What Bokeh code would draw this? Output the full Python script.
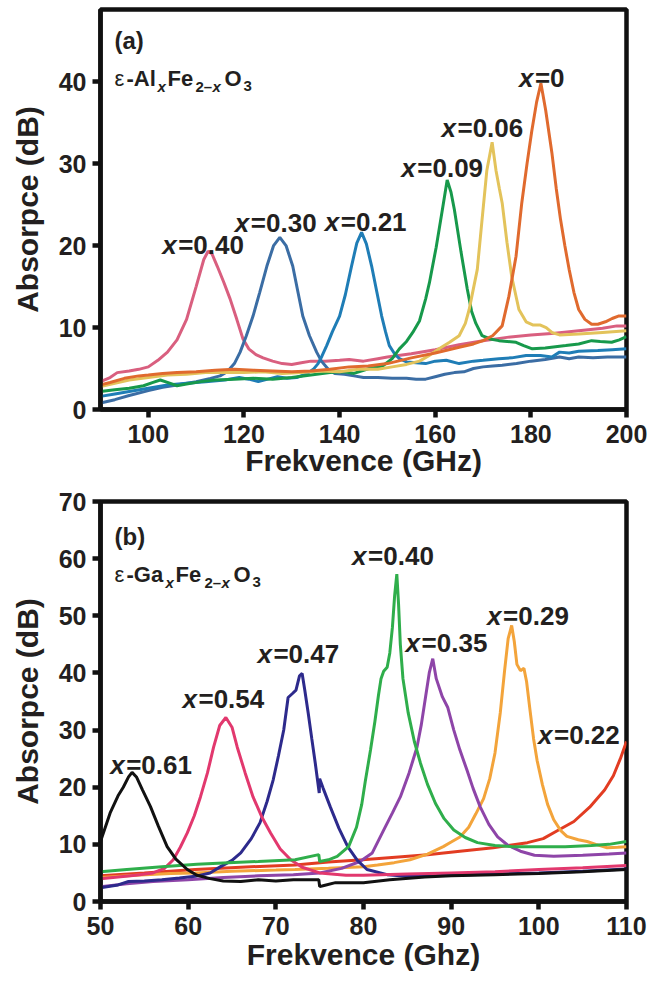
from bokeh.plotting import figure
from bokeh.layouts import column
from bokeh.models import FixedTicker, Range1d
from bokeh.core.properties import value
from bokeh.embed import file_html
from bokeh.resources import INLINE

FONT = "Liberation Sans"
TXT = "#231f20"

# ---------------- data: panel (a)  eps-AlxFe2-xO3, frequency (GHz) vs absorption (dB)
AL_X0 = [(90,3.0),(92,3.3),(95,3.8),(98,4.1),(100,4.2),(103,4.4),(106,4.5),(110,4.6),(114,4.8),(118,4.9),(122,4.8),(126,4.7),(130,4.6),(134,4.7),(138,4.9),(142,5.2),(146,5.3),(150,5.6),(155,6.3),(160,6.9),(165,7.6),(168,8.0),(170,8.4),(172,9.0),(174,10.2),(175.4,13.8),(176.9,18.7),(178.1,25.2),(179.2,30.0),(180.2,34.0),(181.2,37.5),(182.1,39.8),(183.1,36.5),(184.4,31.3),(185.3,27.0),(186.2,23.2),(187.1,20.0),(188,17.1),(189,14.3),(190,12.2),(191.3,11.0),(192.7,10.4),(194,10.4),(195.6,10.7),(197,11.1),(198.3,11.4),(200,11.4)]
AL_X006 = [(90,2.8),(93,3.2),(96,3.6),(100,3.9),(104,4.2),(108,4.3),(112,4.5),(116,4.5),(120,4.5),(124,4.6),(128,4.4),(132,4.5),(136,4.7),(140,4.6),(144,4.9),(148,4.9),(151,5.2),(154,5.5),(156.7,5.9),(158.5,6.5),(160.8,7.4),(163,8.2),(165,9.0),(166.3,10.5),(167.1,12.2),(167.9,14.5),(168.8,17.1),(169.8,23.2),(170.8,29.2),(171.9,32.6),(172.7,29.2),(173.4,27.0),(174,25.2),(175,20.4),(176,16.2),(177.5,12.2),(179,10.7),(180.5,10.3),(182,10.3),(183.2,10.0),(184.4,9.4),(186,9.1),(190,9.2),(195,9.4),(200,9.6)]
AL_X009 = [(90,2.2),(93,2.4),(96,2.6),(99,2.9),(101,3.3),(102.5,3.6),(104,3.3),(106,2.9),(108,3.1),(111,3.4),(114,3.6),(118,3.7),(122,3.8),(126,3.7),(130,3.9),(134,4.2),(138,4.5),(141,4.6),(143,4.4),(146.2,5.0),(149,5.3),(151,6.2),(152.5,7.4),(154,8.3),(155.3,9.4),(156.7,10.8),(158,13.5),(158.8,15.5),(160.2,19.8),(161.5,24.4),(162.5,28.0),(163.3,26.5),(164,24.4),(165.4,19.2),(166.7,14.7),(167.6,12.0),(168.5,10.5),(169.8,9.0),(171.5,8.6),(173.3,8.4),(176.9,8.2),(178.5,7.8),(180.3,7.4),(183,7.5),(187.3,7.8),(190,8.0),(192.7,8.4),(194.5,8.3),(196.9,8.2),(198.5,8.5),(200,8.9)]
AL_X021 = [(90,1.6),(93,1.9),(96,2.2),(100,2.6),(104,3.0),(108,3.2),(112,3.4),(116,3.6),(119,3.9),(121,3.7),(123,3.4),(125,3.7),(127,4.0),(129,3.8),(131,3.9),(133,4.3),(134.5,4.9),(135.5,5.6),(136.3,6.5),(137.3,7.8),(138.5,9.5),(140,11.4),(141.2,14.0),(142.5,17.5),(143.6,20.3),(144.6,21.6),(145.6,20.2),(146.7,17.5),(147.8,14.3),(148.8,11.4),(149.6,9.5),(150.4,7.8),(151.5,6.8),(152.5,6.2),(154,5.8),(156,5.7),(158,5.6),(160,5.9),(162.3,6.0),(165,5.6),(168,5.9),(170,6.0),(173.3,6.2),(176,6.3),(179,6.6),(182,6.6),(184.4,6.4),(186,7.0),(188,6.9),(190,7.1),(194,7.2),(197,7.3),(200,7.4)]
AL_X030 = [(90,0.8),(93,1.2),(96,1.7),(100,2.3),(103,2.7),(106,3.0),(110,3.4),(113,3.8),(115,4.1),(116.5,4.6),(118,5.6),(119.2,7.0),(120.5,9.0),(121.9,11.4),(123.3,14.3),(124.8,17.5),(126.2,20.0),(127.5,21.0),(128.8,20.0),(130.2,17.5),(131.3,14.3),(132.3,11.4),(133.7,9.0),(135.2,7.0),(136.2,5.9),(137.5,5.0),(139,4.4),(141,4.3),(143,4.1),(145,3.9),(148,3.9),(151,3.8),(154,3.8),(156,3.7),(158,3.7),(160,4.0),(162,4.3),(164,4.5),(166,4.6),(168,5.0),(170,5.2),(172,5.3),(174,5.4),(177,5.6),(180,5.9),(183,6.1),(186,6.4),(188,6.2),(190,6.4),(193,6.3),(196,6.4),(200,6.4)]
AL_X040 = [(90,3.4),(92,3.9),(93.5,4.5),(96,4.7),(98,4.9),(100,5.2),(102,6.0),(104,7.0),(106,8.5),(108,11.0),(110,15.0),(111.6,18.3),(112.5,19.3),(113.3,19.0),(114.4,17.5),(115.8,15.5),(117.1,13.5),(118.5,11.0),(119.8,8.6),(121,7.4),(122.5,6.7),(124,6.3),(126,5.9),(128,5.6),(130,5.5),(132,5.7),(134,5.9),(137,5.9),(140,6.0),(142,6.1),(145,5.9),(148,6.2),(150,6.4),(155,6.8),(160,7.3),(165,7.9),(170,8.4),(175,8.8),(180,9.1),(185,9.3),(190,9.6),(195,9.9),(198,10.2),(200,10.2)]

AL_SERIES = ["0.40", "0.30", "0.21", "0.09", "0.06", "0"]
AL_CURVES = [AL_X040, AL_X030, AL_X021, AL_X009, AL_X006, AL_X0]
AL_COLORS = ["#d95f7f", "#3b6da4", "#1f7db6", "#17994b", "#e3c35b", "#e06a2e"]
AL_XTICKS = [100, 120, 140, 160, 180, 200]
AL_YTICKS = [0, 10, 20, 30, 40]

# ---------------- data: panel (b)  eps-GaxFe2-xO3
GA_X061 = [(50,10.5),(51.1,15.5),(52.0,18.5),(52.6,20.0),(53.2,21.8),(53.6,22.6),(54.1,21.8),(54.8,19.5),(55.7,16.6),(56.6,13.2),(57.6,9.6),(58.6,7.4),(59.9,5.6),(61,4.6),(62.5,4.0),(64,3.6),(66,3.5),(68,3.8),(70,3.6),(72,3.8),(74.9,3.8),(75.0,2.6),(75.5,2.8),(76.8,3.3),(80,3.3),(83,3.8),(87,4.3),(90,4.5),(95,4.7),(100,4.9),(105,5.2),(110,5.6)]
GA_X054 = [(50,4.0),(52,4.3),(54,4.6),(56,5.0),(57.3,5.8),(58.3,7.3),(59.1,9.5),(59.9,12.0),(60.7,15.0),(61.4,18.3),(62.2,22.5),(62.9,27.0),(63.6,30.8),(64.3,32.2),(65.0,30.5),(65.6,27.0),(66.5,22.5),(67.4,18.3),(68.4,14.8),(69.4,12.0),(70.5,9.2),(71.7,7.3),(73,6.0),(75,5.0),(78,4.6),(80,4.6),(85,4.8),(90,5.0),(95,5.2),(100,5.6),(105,5.9),(110,6.3)]
GA_X047 = [(50,2.4),(52,2.9),(53.2,3.5),(55,3.6),(57,3.8),(59,4.1),(60.8,4.4),(62.5,5.0),(63.7,6.1),(65,7.2),(66,8.5),(67.2,11.0),(68.2,13.8),(69,17.5),(69.7,21.3),(70.3,25.5),(70.9,30.0),(71.4,35.7),(71.9,36.4),(72.3,37.0),(72.7,39.5),(73.0,39.9),(73.3,37.0),(73.7,32.9),(74.1,28.5),(74.5,24.2),(74.95,19.0),(75.0,21.5),(75.4,19.8),(76.2,16.6),(77.2,12.8),(78.2,9.6),(79.3,7.2),(80.4,5.6),(82.7,4.7),(85,4.4),(88,4.5),(90,4.6),(95,4.8),(100,5.0),(105,5.3),(110,5.7)]
GA_X040 = [(50,5.2),(53,5.6),(57,6.1),(61,6.5),(64.6,6.8),(68,7.0),(72.2,7.3),(74.9,8.2),(75.0,7.0),(76,7.3),(77,7.9),(78.3,9.6),(79.2,13.0),(79.8,17.0),(80.2,21.0),(80.8,26.5),(81.3,31.5),(81.7,36.0),(82.0,39.0),(82.3,40.3),(82.7,41.0),(83.0,43.5),(83.3,48.0),(83.55,53.5),(83.8,57.3),(84.0,52.0),(84.2,45.0),(84.5,39.0),(85.1,33.0),(85.8,28.0),(86.5,24.2),(87.3,20.5),(88.2,17.2),(89.2,14.5),(90.3,12.5),(91.6,11.2),(93.0,10.3),(95,9.8),(97,9.6),(100,9.6),(103,9.6),(106,9.8),(108,10.0),(110,10.5)]
GA_X035 = [(50,2.6),(53,3.1),(56,3.5),(60,3.8),(64,4.2),(68,4.5),(72,4.7),(75,5.0),(77.5,5.8),(79.6,7.0),(81,8.5),(82.3,12.5),(83.3,15.5),(84.2,18.3),(85.2,22.5),(86.1,27.0),(86.6,31.0),(87.1,36.0),(87.5,40.0),(87.9,42.5),(88.3,39.0),(89.0,35.8),(89.6,34.0),(90.3,30.0),(91.0,26.5),(91.8,23.0),(92.5,19.8),(93.3,16.6),(94.3,13.5),(95.3,11.3),(96.5,9.8),(97.9,8.8),(99.5,8.1),(101.7,7.9),(105,8.1),(108,8.3),(110,8.5)]
GA_X029 = [(50,4.2),(54,4.6),(58,4.9),(60.8,5.0),(65,5.3),(70,5.5),(72.2,5.6),(76,5.8),(80,6.1),(81.6,6.4),(83.5,6.8),(85.3,7.3),(87.3,8.3),(89.1,9.6),(90,10.4),(91,11.3),(92,13.0),(92.8,15.3),(93.7,18.0),(94.4,21.5),(95,26.0),(95.6,33.0),(96.1,40.5),(96.5,46.0),(96.9,48.3),(97.2,45.5),(97.5,41.5),(97.9,40.4),(98.3,40.8),(98.6,38.5),(99.0,33.4),(99.4,28.5),(99.8,24.7),(100.4,20.5),(101.0,17.0),(101.7,14.3),(102.5,12.4),(103.2,11.4),(104.5,10.8),(105.5,10.5),(106.5,10.0),(107.8,9.4),(109,9.5),(110,9.6)]
GA_X022 = [(50,4.5),(55,5.0),(60.8,5.6),(66,6.0),(72.2,6.4),(76,6.9),(79.9,7.3),(84,7.8),(87.3,8.2),(91,8.8),(94.8,9.4),(98.7,10.3),(100.5,11.0),(102,12.3),(104,14.0),(105.8,16.5),(107.5,19.5),(108.5,22.0),(109.3,25.0),(110,28.0)]

GA_SERIES = ["0.22", "0.29", "0.35", "0.47", "0.54", "0.40", "0.61"]
GA_CURVES = [GA_X022, GA_X029, GA_X035, GA_X047, GA_X054, GA_X040, GA_X061]
GA_COLORS = ["#e23c22", "#f3a43b", "#8e45a8", "#2d2a8c", "#e2386e", "#2fae4b", "#111111"]
GA_XTICKS = [50, 60, 70, 80, 90, 100, 110]
GA_YTICKS = [0, 10, 20, 30, 40, 50, 60, 70]

# ---------------- annotation layout (label left edge / baseline, in data units)
AL_LABELS = [("0.40", 102.9, 20.1), ("0.30", 118.1, 22.8), ("0.21", 136.9, 22.9),
             ("0.09", 152.9, 29.5), ("0.06", 161.3, 34.3), ("0", 177.5, 40.5)]
GA_LABELS = [("0.61", 51.1, 23.9), ("0.54", 59.35, 35.5), ("0.47", 67.9, 43.4),
             ("0.40", 78.7, 60.5), ("0.35", 84.8, 45.3), ("0.29", 94.1, 50.0),
             ("0.22", 99.9, 29.1)]

FRAME_W, FRAME_H = 526, 400


def make_fig(xr, yr, xticks, yticks, xlabel, top, bottom, xl_standoff):
    p = figure(frame_width=FRAME_W, frame_height=FRAME_H,
               x_range=Range1d(*xr), y_range=Range1d(*yr),
               output_backend="svg", toolbar_location=None,
               min_border_left=100, min_border_right=28,
               min_border_top=top, min_border_bottom=bottom)
    p.xgrid.visible = False
    p.ygrid.visible = False
    p.background_fill_color = "white"
    p.border_fill_color = "white"
    p.outline_line_color = "#111111"
    p.outline_line_width = 4.5
    p.outline_line_alpha = 1.0
    p.xaxis.ticker = FixedTicker(ticks=xticks)
    p.yaxis.ticker = FixedTicker(ticks=yticks)
    for ax in (p.xaxis[0], p.yaxis[0]):
        ax.axis_line_width = 4.5
        ax.axis_line_color = "#111111"
        ax.major_tick_line_width = 4.5
        ax.major_tick_line_color = "#111111"
        ax.major_tick_out = 8
        ax.major_tick_in = 0
        ax.minor_tick_line_color = None
        ax.major_label_text_font = FONT
        ax.major_label_text_font_style = "bold"
        ax.major_label_text_font_size = "25px"
        ax.major_label_text_color = TXT
        ax.axis_label_text_font = FONT
        ax.axis_label_text_font_style = "bold"
        ax.axis_label_text_font_size = "30px"
        ax.axis_label_text_color = TXT
    p.xaxis.major_label_standoff = 7
    p.yaxis.major_label_standoff = 6
    p.xaxis.axis_label = xlabel
    p.yaxis.axis_label = "Absorpce (dB)"
    p.xaxis.axis_label_standoff = xl_standoff
    p.yaxis.axis_label_standoff = 12
    return p


def txt(p, x, y, s, size, style="bold", x_off=0, align="left"):
    p.text(x=[x], y=[y], text=[s], x_offset=x_off,
           text_font=value(FONT), text_font_size=f"{size}px",
           text_font_style=style, text_color=TXT,
           text_align=align, text_baseline="alphabetic")


def add_x_label(p, sval, x, y):
    txt(p, x, y, "x", 26, "bold italic")
    txt(p, x, y, "=" + sval, 26, "bold", x_off=16)


def add_formula(p, x0, y_top, y_base, yspan, runs, panel):
    px = yspan / FRAME_H
    txt(p, x0, y_top, panel, 24, "bold", x_off=14)
    for s, off, size, style, dy in runs:
        txt(p, x0, y_base - dy * px, s, size, style, x_off=off)


# ---------------- panel (a)
pa = make_fig((90, 200), (0, 48.8), AL_XTICKS, AL_YTICKS, "Frekvence (GHz)", 9, 76, -2)
for curve, col in zip(AL_CURVES, AL_COLORS):
    xs = [c[0] for c in curve]
    ys = [c[1] for c in curve]
    pa.line(xs, ys, line_color=col, line_width=3)
for sval, x, y in AL_LABELS:
    add_x_label(pa, sval, x, y)
add_formula(pa, 90, 45.0, 40.4, 48.8, [
    ("\u03b5", 14, 22, "normal", 0),
    ("-Al", 26, 22, "bold", 0),
    ("x", 57, 15, "bold italic", 8),
    ("Fe", 67, 22, "bold", 0),
    ("2\u2013", 95, 15, "bold", 8),
    ("x", 112, 15, "bold italic", 8),
    ("O", 124, 22, "bold", 0),
    ("3", 143, 15, "bold", 8),
], "(a)")

# ---------------- panel (b)
pb = make_fig((50, 110), (0, 70), GA_XTICKS, GA_YTICKS, "Frekvence (Ghz)", 16, 80, 0)
for curve, col in zip(GA_CURVES, GA_COLORS):
    xs = [c[0] for c in curve]
    ys = [c[1] for c in curve]
    pb.line(xs, ys, line_color=col, line_width=3)
for sval, x, y in GA_LABELS:
    add_x_label(pb, sval, x, y)
add_formula(pb, 50, 63.8, 57.3, 70, [
    ("\u03b5", 14, 22, "normal", 0),
    ("-Ga", 26, 22, "bold", 0),
    ("x", 65, 15, "bold italic", 8),
    ("Fe", 75, 22, "bold", 0),
    ("2\u2013", 104, 15, "bold", 8),
    ("x", 121, 15, "bold italic", 8),
    ("O", 133, 22, "bold", 0),
    ("3", 152, 15, "bold", 8),
], "(b)")

layout = column(pa, pb, spacing=0)
open("out.html", "w").write(file_html(layout, INLINE))
